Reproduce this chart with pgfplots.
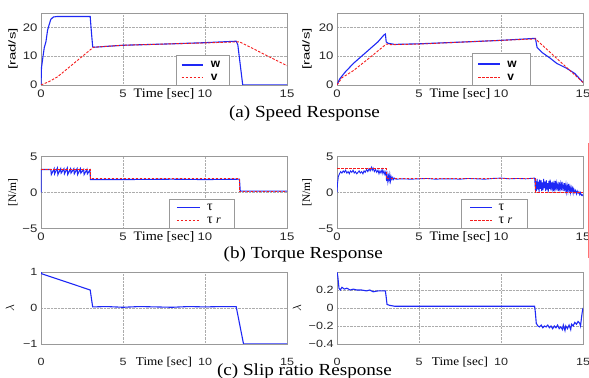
\documentclass[border=0pt]{standalone}
\usepackage{fontspec}
\setmainfont{Liberation Serif}
\setsansfont{Liberation Sans}
\newfontfamily\ticksf[FakeStretch=1.2]{Liberation Sans}
\newfontfamily\capfont[FakeStretch=1.13]{Liberation Serif}
\newfontfamily\timefont[FakeStretch=1.1]{Liberation Serif}
\usepackage{pgfplots}
\pgfplotsset{compat=1.18}
\definecolor{mblue}{RGB}{30,40,245}
\definecolor{mred}{RGB}{245,30,30}
\tikzset{
  wline/.style={mblue, line width=1.1bp},
  rline/.style={mred, line width=0.9bp, dash pattern=on 2.5bp off 1.5bp},
  legbox/.style={draw=gray!80, fill=white, line width=0.7bp},
  legtxt/.style={anchor=west, inner sep=0pt},
  lw/.style={mblue, line width=1.5bp},
  lr/.style={mred, line width=1.3bp, dash pattern=on 2.5bp off 1.5bp},
}
\pgfplotsset{
  panel/.style={
    scale only axis, width=246bp, height=72bp,
    xmin=0, xmax=15, xtick={0,5,10,15}, xticklabels={0,5,10,15},
    grid=major, grid style={gray!65, densely dotted, line width=0.5bp},
    axis line style={gray!80, line width=0.7bp},
    major tick length=0pt,
    /pgf/number format/assume math mode=true,
    tick label style={font=\ticksf\fontsize{11}{12}\selectfont, text=black!85},
    x tick label style={anchor=base, yshift=-12.5bp, inner sep=1bp},
    xlabel={\timefont\fontsize{13}{13}\selectfont Time [sec]},
    xlabel style={at={(axis description cs:0.5,0)}, anchor=base, yshift=-12.5bp, inner sep=0pt},
  },
  row3/.style={
    tick label style={font=\ticksf\fontsize{10.5}{12}\selectfont, text=black!85},
    x tick label style={anchor=base, yshift=-9bp, inner sep=0.5bp},
    xlabel={\timefont\fontsize{12}{12}\selectfont Time [sec]},
    xlabel style={yshift=-9.5bp},
  },
}
\begin{document}
\begin{tikzpicture}
\path[use as bounding box] (0,0) rectangle (589bp,378bp);

% ---------- (a) left
\begin{axis}[panel, at={(41bp,293bp)}, anchor=south west,
  ymin=0, ymax=25, ytick={0,10,20}, yticklabels={0,10,20},
  ylabel={\scalebox{1.5}[1]{\sffamily\fontsize{10}{10}\selectfont [rad/s]}},
  ylabel style={at={(axis description cs:-0.114,0.5)}, anchor=center}]
\addplot[wline] coordinates {(0,0) (0.03,6) (0.1,9) (0.2,13) (0.3,15) (0.4,19) (0.5,21) (0.6,22.8) (0.75,23.6) (1,23.8) (2,23.8) (3.0,23.8) (3.05,20) (3.15,13.3) (3.2,13.1) (5,13.8) (8,14.3) (10,14.7) (11.9,15.2) (12.0,14) (12.3,0) (15,0)};
\addplot[rline] coordinates {(0,0) (0.5,1.2) (1,2.8) (2,7.5) (3.0,12.2) (3.2,13.1) (5,13.8) (8,14.3) (10,14.6) (12.1,15.0) (15,6.7)};
\draw[legbox] (rel axis cs:0.549,0) rectangle (rel axis cs:0.764,0.417);
\draw[lw] (rel axis cs:0.572,0.28) -- (rel axis cs:0.660,0.28);
\draw[lr] (rel axis cs:0.572,0.10) -- (rel axis cs:0.660,0.10);
\node[legtxt, font=\sffamily\bfseries\fontsize{12}{12}\selectfont] at (rel axis cs:0.690,0.28) {w};
\node[legtxt, font=\sffamily\bfseries\fontsize{12}{12}\selectfont] at (rel axis cs:0.690,0.10) {v};
\end{axis}

% ---------- (a) right
\begin{axis}[panel, at={(337bp,293bp)}, anchor=south west,
  ymin=0, ymax=25, ytick={0,10,20}, yticklabels={0,10,20},
  ylabel={\scalebox{1.5}[1]{\sffamily\fontsize{10}{10}\selectfont [rad/s]}},
  ylabel style={at={(axis description cs:-0.122,0.5)}, anchor=center}]
\addplot[wline] coordinates {(0,0) (0.15,2) (0.5,4.5) (1,7.5) (1.5,10) (2,12.5) (2.5,15) (2.85,17.3) (2.95,17.7) (3.0,15) (3.1,14.5) (3.5,14.1) (5,14.3) (8,15) (10,15.5) (12.1,16.2) (12.2,13) (12.5,11.3) (13,9.3) (13.4,7.5) (14,5.8) (14.5,4) (15,0.9)};
\addplot[rline] coordinates {(0,0) (0.3,2.5) (1,5) (2,9.5) (3,14.2) (3.3,14) (5,14.2) (8,15) (10,15.5) (12.1,16) (15,0.9)};
\draw[legbox] (rel axis cs:0.552,0) rectangle (rel axis cs:0.785,0.44);
\draw[lw] (rel axis cs:0.575,0.29) -- (rel axis cs:0.663,0.29);
\draw[lr] (rel axis cs:0.575,0.10) -- (rel axis cs:0.663,0.10);
\node[legtxt, font=\sffamily\bfseries\fontsize{12}{12}\selectfont] at (rel axis cs:0.692,0.29) {w};
\node[legtxt, font=\sffamily\bfseries\fontsize{12}{12}\selectfont] at (rel axis cs:0.692,0.10) {v};
\end{axis}

% ---------- (b) left
\begin{axis}[panel, at={(41bp,149.5bp)}, anchor=south west,
  ymin=-5, ymax=5, ytick={-5,0,5}, yticklabels={−5,0,5},
  ylabel={\fontsize{11.5}{12}\selectfont [N/m]},
  ylabel style={at={(axis description cs:-0.114,0.5)}, anchor=center}]
\addplot[wline] coordinates {(0,0) (0.01,3.2) (0.6,3.2) (0.63,2.5) (0.8,3.3) (0.83,2.6) (1.0,3.4) (1.03,2.5) (1.2,3.3) (1.23,2.7) (1.4,3.3) (1.43,2.6) (1.6,3.4) (1.63,2.5) (1.8,3.3) (1.83,2.7) (2.0,3.3) (2.03,2.6) (2.2,3.3) (2.23,2.5) (2.4,3.3) (2.43,2.7) (2.6,3.2) (2.63,2.5) (2.8,3.2) (2.83,2.6) (2.98,3.1) (3.02,1.8) (5,1.8) (8,1.85) (10,1.8) (12.1,1.85) (12.15,0.2) (15,0.2)};
\addplot[rline] coordinates {(0,3.2) (3,3.2) (3,1.9) (12.1,1.9) (12.1,0.1) (15,0.1)};
\draw[legbox] (rel axis cs:0.52,0) rectangle (rel axis cs:0.785,0.41);
\draw[lw] (rel axis cs:0.552,0.29) -- (rel axis cs:0.646,0.29);
\draw[lr] (rel axis cs:0.552,0.11) -- (rel axis cs:0.646,0.11);
\node[legtxt, font=\fontsize{14}{14}\selectfont] at (rel axis cs:0.674,0.29) {τ};
\node[legtxt, font=\fontsize{14}{14}\selectfont] at (rel axis cs:0.674,0.11) {τ \textit{\fontsize{12}{12}\selectfont r}};
\end{axis}

% ---------- (b) right
\begin{axis}[panel, at={(337bp,149.5bp)}, anchor=south west,
  ymin=-5, ymax=5, ytick={-5,0,5}, yticklabels={−5,0,5},
  ylabel={\fontsize{11.5}{12}\selectfont [N/m]},
  ylabel style={at={(axis description cs:-0.122,0.5)}, anchor=center}]
\addplot[wline, line width=0.9bp] coordinates {(0,0) (0.03,1.2) (0.08,2.2) (0.15,2.6) (0.22,2.9) (0.3,2.7) (0.38,3.0) (0.45,2.8) (0.52,3.1) (0.6,2.7) (0.68,2.9) (0.75,2.6) (0.82,3.0) (0.9,2.8) (0.98,3.1) (1.05,2.7) (1.12,2.9) (1.2,2.6) (1.28,2.8) (1.35,3.0) (1.42,2.7) (1.5,2.9) (1.58,2.6) (1.65,3.0) (1.72,2.8) (1.8,3.2) (1.88,2.9) (1.95,3.3) (2.02,3.0) (2.1,3.5) (2.15,3.1) (2.2,3.4) (2.28,2.9) (2.35,3.2) (2.42,2.8) (2.5,3.1) (2.56,2.6) (2.62,3.0) (2.68,2.7) (2.75,3.2) (2.8,2.6) (2.86,3.0) (2.92,2.5) (2.98,2.9)
(3.02,1.6) (3.06,2.4) (3.1,1.5) (3.14,2.3) (3.18,1.7) (3.22,2.5) (3.26,1.6) (3.3,2.2) (3.35,1.8) (3.4,2.1) (3.45,1.8) (3.5,2.0) (3.6,1.85) (4,1.9) (4.5,1.85) (5,1.9) (5.5,1.95) (6,1.85) (6.5,1.9) (7,1.9) (7.5,1.85) (8,1.95) (8.5,1.9) (9,1.85) (9.5,1.95) (10,2.0) (10.5,1.9) (11,1.95) (11.5,1.9) (12.05,2.0) (12.1,0.3)
(12.12,1.6) (12.16,0.2) (12.20,1.9) (12.24,0.4) (12.28,1.5) (12.32,0.1) (12.36,1.8) (12.40,0.5) (12.44,1.7) (12.48,0.2) (12.52,1.4) (12.56,0.3) (12.60,1.9) (12.64,0.6) (12.68,1.5) (12.72,0.2) (12.76,1.7) (12.80,0.4) (12.84,1.3) (12.88,0.1) (12.92,1.6) (12.96,0.5) (13.00,1.8) (13.04,0.3) (13.08,1.4) (13.12,0.6) (13.16,1.5) (13.20,0.2) (13.24,1.2) (13.28,0.5) (13.32,1.6) (13.36,0.3) (13.40,1.3) (13.44,0.6) (13.48,1.1) (13.52,0.2) (13.56,1.4) (13.60,0.5) (13.64,1.2) (13.68,0.3) (13.72,1.5) (13.76,0.6) (13.80,1.0) (13.84,0.2) (13.88,1.3) (13.92,0.4) (13.96,1.1) (14.00,0.1) (14.04,0.9) (14.08,0.2) (14.12,1.2) (14.16,0.3) (14.20,0.8) (14.24,0.0) (14.28,0.7) (14.32,0.2) (14.36,0.6) (14.40,-0.1) (14.44,0.5) (14.50,0.0) (14.55,0.3) (14.60,-0.2) (14.65,0.2) (14.70,-0.1) (14.75,0.1) (14.80,-0.3) (14.85,0.0) (14.90,-0.4) (14.95,-0.3) (15.0,-0.5)};
\addplot[rline] coordinates {(0,3.3) (3,3.3) (3,1.9) (12.1,1.9) (12.1,0) (15,0)};
\draw[legbox] (rel axis cs:0.507,0) rectangle (rel axis cs:0.774,0.41);
\draw[lw] (rel axis cs:0.541,0.29) -- (rel axis cs:0.629,0.29);
\draw[lr] (rel axis cs:0.541,0.11) -- (rel axis cs:0.629,0.11);
\node[legtxt, font=\fontsize{14}{14}\selectfont] at (rel axis cs:0.656,0.29) {τ};
\node[legtxt, font=\fontsize{14}{14}\selectfont] at (rel axis cs:0.656,0.11) {τ \textit{\fontsize{12}{12}\selectfont r}};
\end{axis}

% ---------- (c) left
\begin{axis}[panel, row3, at={(41bp,34bp)}, anchor=south west,
  ymin=-1, ymax=1, ytick={-1,0,1}, yticklabels={−1,0,1},
  ylabel={\fontsize{13}{13}\selectfont $\lambda$},
  ylabel style={at={(axis description cs:-0.126,0.5)}, anchor=center}]
\addplot[wline] coordinates {(0,1) (0.05,0.95) (3.0,0.5) (3.15,0.03) (4,0.04) (5,0.02) (6,0.04) (7,0.03) (8,0.02) (9,0.04) (10,0.03) (11,0.04) (11.9,0.04) (12.35,-1) (15,-1)};
\end{axis}

% ---------- (c) right
\begin{axis}[panel, row3, at={(337bp,34bp)}, anchor=south west,
  ymin=-0.4, ymax=0.4, ytick={-0.4,-0.2,0,0.2}, yticklabels={−0.4,−0.2,0,0.2},
  ylabel={\fontsize{13}{13}\selectfont $\lambda$},
  ylabel style={at={(axis description cs:-0.163,0.5)}, anchor=center}]
\addplot[wline] coordinates {(0,0.4) (0.05,0.35) (0.12,0.22) (0.2,0.2) (0.3,0.23) (0.45,0.21) (0.6,0.22) (0.8,0.2) (1.0,0.21) (1.2,0.2) (1.5,0.2) (1.8,0.19) (2.0,0.2) (2.2,0.18) (2.5,0.19) (2.8,0.19) (2.95,0.19) (3.0,0.12) (3.05,0.04) (3.2,0.03) (3.5,0.02) (5,0.02) (8,0.02) (10,0.02) (12.05,0.02) (12.1,-0.06) (12.15,-0.17) (12.25,-0.2) (12.35,-0.21) (12.45,-0.19) (12.55,-0.22) (12.65,-0.2) (12.75,-0.21) (12.85,-0.19) (12.95,-0.22) (13.05,-0.2) (13.15,-0.23) (13.25,-0.2) (13.35,-0.22) (13.45,-0.19) (13.55,-0.23) (13.65,-0.21) (13.75,-0.24) (13.8,-0.19) (13.9,-0.25) (13.95,-0.2) (14.05,-0.23) (14.15,-0.19) (14.25,-0.24) (14.3,-0.18) (14.4,-0.2) (14.5,-0.16) (14.6,-0.18) (14.7,-0.15) (14.8,-0.17) (14.85,-0.2) (14.9,-0.12) (14.95,-0.05) (15,0.0)};
\end{axis}

% captions
\node[anchor=base, inner sep=0pt, font=\capfont\fontsize{17}{17}\selectfont] at (304.5bp,260.7bp) {(a) Speed Response};
\node[anchor=base, inner sep=0pt, font=\capfont\fontsize{17}{17}\selectfont] at (303.3bp,119bp) {(b) Torque Response};
\node[anchor=base, inner sep=0pt, font=\capfont\fontsize{17}{17}\selectfont] at (304.5bp,3bp) {(c) Slip ratio Response};
\draw[red!55, line width=0.8bp] (588bp,235bp) -- (588bp,120bp);
\end{tikzpicture}
\end{document}
